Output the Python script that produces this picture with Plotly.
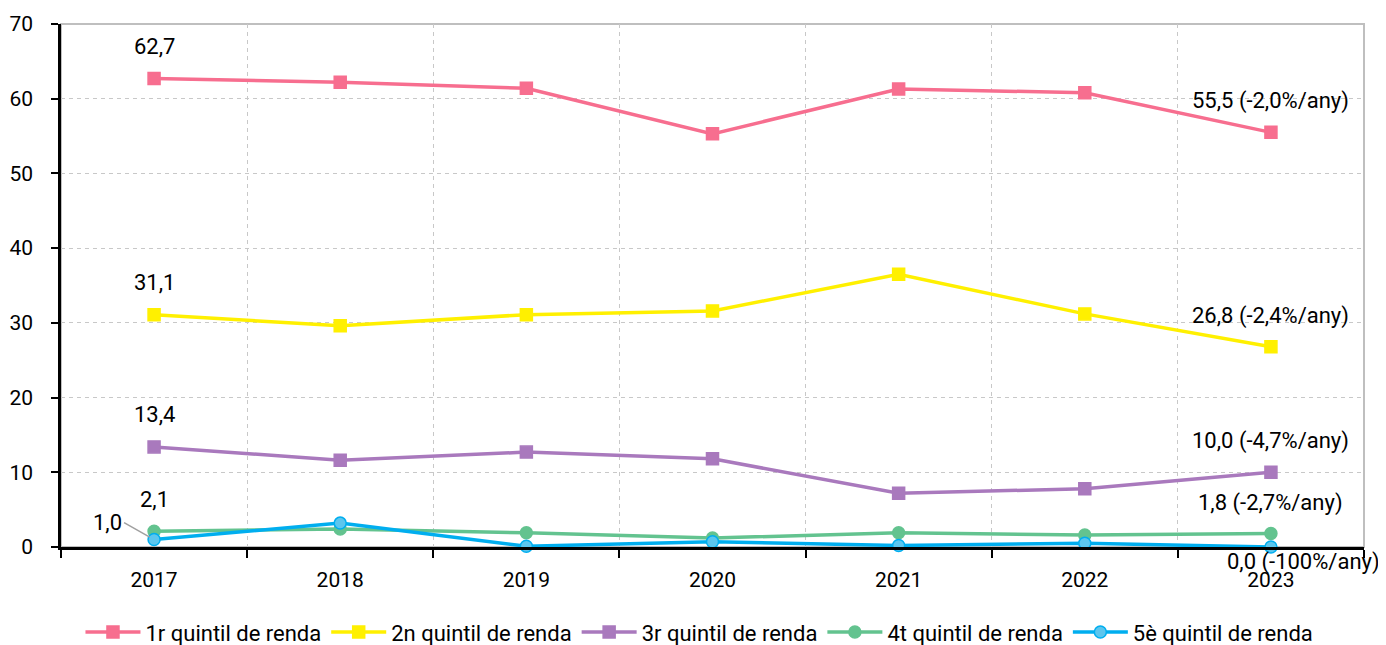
import plotly.graph_objects as go

years = ["2017", "2018", "2019", "2020", "2021", "2022", "2023"]
series_names = ["1r quintil de renda", "2n quintil de renda", "3r quintil de renda",
                "4t quintil de renda", "5è quintil de renda"]
q1 = [62.7, 62.2, 61.4, 55.3, 61.3, 60.8, 55.5]
q2 = [31.1, 29.6, 31.1, 31.6, 36.5, 31.2, 26.8]
q3 = [13.4, 11.6, 12.7, 11.8, 7.2, 7.8, 10.0]
q4 = [2.1, 2.4, 1.9, 1.2, 1.9, 1.6, 1.8]
q5 = [1.0, 3.2, 0.1, 0.7, 0.2, 0.5, 0.0]
rates = ["-2,0%/any", "-2,4%/any", "-4,7%/any", "-2,7%/any", "-100%/any"]
y_ticks = [0, 10, 20, 30, 40, 50, 60, 70]

values = [q1, q2, q3, q4, q5]
line_colors = ["#F76E8F", "#FFF000", "#A979BD", "#63C38F", "#00AEEF"]
marker_fill = ["#F76E8F", "#FFF000", "#A979BD", "#63C38F", "#5CC6EE"]
symbols = ["square", "square", "square", "circle", "circle"]

FONT = "Roboto"
FS = 21
AFS = 22

def fmt(v):
    return f"{v:.1f}".replace(".", ",")

fig = go.Figure()
xs = list(range(len(years)))
for i in range(5):
    fig.add_trace(go.Scatter(
        x=xs, y=values[i], mode="lines+markers", name=series_names[i],
        line=dict(color=line_colors[i], width=3.5),
        marker=dict(symbol=symbols[i], size=12, color=marker_fill[i],
                    line=dict(color=line_colors[i], width=1.5)),
        cliponaxis=False,
    ))

# first-point labels
for i in range(4):
    fig.add_annotation(x=0, y=values[i][0], text=fmt(values[i][0]), showarrow=False,
                       yshift=32, font=dict(family=FONT, size=AFS, color="#000000"))
# 5th quintile first label with leader
fig.add_annotation(x=0, y=q5[0], text=fmt(q5[0]), showarrow=True, arrowhead=0,
                   arrowcolor="#A0A0A0", arrowwidth=1.5, ax=-30, ay=-17,
                   xanchor="right", standoff=5,
                   font=dict(family=FONT, size=AFS, color="#000000"))
# end labels
last = len(years) - 1
for i in range(4):
    fig.add_annotation(x=last, y=values[i][last],
                       text=f"{fmt(values[i][last])} ({rates[i]})", showarrow=False,
                       yshift=31, font=dict(family=FONT, size=AFS, color="#000000"))
fig.add_annotation(x=last, y=q5[last], text=f"{fmt(q5[last])} ({rates[4]})",
                   showarrow=False, yshift=-15, xshift=33,
                   font=dict(family=FONT, size=AFS, color="#000000"))

# plot frame (top/right gray)
fig.add_shape(type="rect", xref="paper", yref="paper", x0=0, x1=1, y0=0, y1=1,
              line=dict(color="#BFBFBF", width=2), layer="below")

fig.update_layout(
    width=1386, height=645,
    margin=dict(l=53, r=30, t=16, b=106, autoexpand=False),
    plot_bgcolor="white", paper_bgcolor="white",
    font=dict(family=FONT, size=FS, color="#000000"),
    showlegend=True,
    legend=dict(orientation="h", x=0.49, xanchor="center", y=-0.163, yanchor="middle",
                font=dict(family=FONT, size=22, color="#000000"),
                itemwidth=55, tracegroupgap=0),
)
fig.update_xaxes(
    range=[-0.5, 6.5], tickmode="array", tickvals=xs, ticktext=years,
    ticks="", showgrid=False, zeroline=False, automargin=False,
    showline=True, linecolor="#000000", linewidth=2.5,
    ticklabelstandoff=12,
    tickfont=dict(family=FONT, size=FS, color="#000000"),
    minor=dict(tickmode="array", tickvals=[k + 0.5 for k in range(-1, 7)],
               ticks="outside", ticklen=8, tickwidth=2, tickcolor="#000000",
               showgrid=True, gridcolor="#C8C8C8", griddash="4px,4px", gridwidth=1),
)
fig.update_yaxes(
    range=[0, 70], tickmode="array", tickvals=y_ticks,
    ticks="outside", ticklen=7, tickwidth=2, tickcolor="#000000",
    showgrid=True, gridcolor="#C8C8C8", griddash="4px,4px", gridwidth=1,
    zeroline=False, showline=True, linecolor="#000000", linewidth=2.5,
    ticklabelstandoff=14, automargin=False,
    tickfont=dict(family=FONT, size=FS, color="#000000"),
)

fig.write_html("out.html")
